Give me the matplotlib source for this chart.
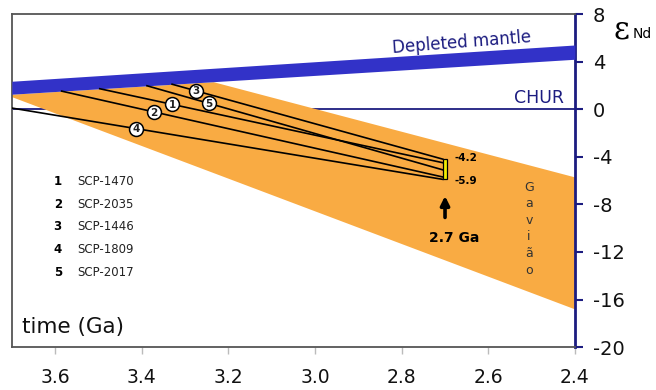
import numpy as np
import matplotlib
matplotlib.use("Agg")
import matplotlib.pyplot as plt

# depleted mantle band (age in Ga, eps Nd lower / upper edge)
dm_age = [3.7, 2.4]
dm_low = [1.26, 4.2]
dm_high = [2.35, 5.4]

# Gaviao field
gav_age = [3.7, 3.235, 2.4]
gav_upper = [1.26, 2.31, -5.7]
gav_lower = [1.05, -5.33, -16.8]

# model-age lines of the samples
sample_ids = [1, 2, 3, 4, 5]
sample_names = ["SCP-1470", "SCP-2035", "SCP-1446", "SCP-1809", "SCP-2017"]
tdm_age = [3.497, 3.585, 3.33, 3.84, 3.388]
tdm_eps = [1.72, 1.52, 2.10, 0.94, 1.97]
end_age = 2.705
end_eps = [-4.5, -5.7, -4.2, -5.9, -5.1]
label_age = [3.330, 3.372, 3.275, 3.414, 3.245]

# 2.7 Ga range
bar_age = 2.7
bar_min = -5.9
bar_max = -4.2

x_ticks = [3.6, 3.4, 3.2, 3.0, 2.8, 2.6, 2.4]
y_ticks = [8, 4, 0, -4, -8, -12, -16, -20]

orange = "#f9ab43"
dm_blue = "#3232c8"
navy = "#1c1c80"

fig = plt.figure(figsize=(6.56, 3.90), dpi=100)
ax = fig.add_axes([0.018, 0.110, 0.8585, 0.854])

# CHUR
ax.axhline(0, color=navy, lw=1.3, zorder=1)

# Gaviao field
ax.fill_between(gav_age, gav_lower, gav_upper, color=orange, lw=0, zorder=2)

# depleted mantle
ax.fill_between(dm_age, dm_low, dm_high, color=dm_blue, lw=0, zorder=3)

# sample lines + numbered circles
for sid, t0, e0, e1, ta in zip(sample_ids, tdm_age, tdm_eps, end_eps, label_age):
    ax.plot([t0, end_age], [e0, e1], color="black", lw=1.2, zorder=4)
    ea = np.interp(ta, [end_age, t0], [e1, e0])
    ax.plot(ta, ea, "o", ms=10, mfc="white", mec="black", mew=1.1, zorder=5)
    ax.text(ta, ea - 0.05, str(sid), ha="center", va="center", fontsize=7.5,
            fontweight="bold", color="#222222", zorder=6)

ax.bar(bar_age, bar_max - bar_min, bottom=bar_min, width=0.011,
       color="#f2ee00", edgecolor="black", lw=0.9, zorder=5)
ax.text(2.677, bar_max + 0.1, "-4.2", fontsize=7.5, fontweight="bold", va="center")
ax.text(2.677, bar_min - 0.15, "-5.9", fontsize=7.5, fontweight="bold", va="center")

ax.annotate("", xy=(2.7, -7.3), xytext=(2.7, -9.1),
            arrowprops=dict(arrowstyle="-|>", lw=2.6, mutation_scale=13, color="black",
                            shrinkA=0, shrinkB=0))
ax.text(2.679, -10.8, "2.7 Ga", ha="center", va="center", fontsize=10, fontweight="bold")

ax.text(2.506, -6.0, "\n".join("Gavião"), ha="center", va="top", fontsize=9,
        color="#333333", linespacing=1.36)

ax.text(2.661, 5.6, "Depleted mantle", ha="center", va="center", fontsize=12,
        color=navy, rotation=4.5)
ax.text(2.483, 0.9, "CHUR", ha="center", va="center", fontsize=12.5, color=navy)

# legend of samples
for i, (sid, name) in enumerate(zip(sample_ids, sample_names)):
    y = -6.1 - i * 1.9
    ax.text(3.594, y, str(sid), ha="center", va="center", fontsize=8.5, fontweight="bold")
    ax.text(3.55, y, name, ha="left", va="center", fontsize=8.5, color="#222222")

ax.text(3.677, -18.3, "time (Ga)", ha="left", va="center", fontsize=15.5, color="#111111")

ax.set_xlim(3.7, 2.4)
ax.set_ylim(-20, 8)
ax.set_xticks(x_ticks)
ax.set_xticklabels([f"{v:.1f}" for v in x_ticks])
ax.set_yticks(y_ticks)
ax.set_yticklabels([str(v) for v in y_ticks])
ax.yaxis.tick_right()
ax.tick_params(axis="y", direction="out", length=6, width=1.5, color=navy,
               labelsize=14, pad=7, labelcolor="#111111")
ax.tick_params(axis="x", direction="out", length=5, width=1, color="#bbbbbb",
               labelsize=13.5, pad=10, labelcolor="#111111")

for side in ["left", "top", "bottom"]:
    ax.spines[side].set_color("#555555")
    ax.spines[side].set_linewidth(1.3)
ax.spines["right"].set_color(navy)
ax.spines["right"].set_linewidth(2)

# eps Nd label
fig.text(0.948, 0.923, "ε", fontsize=22, family="DejaVu Serif", ha="center", va="center")
fig.text(0.965, 0.913, "Nd", fontsize=10, ha="left", va="center")

fig.savefig("out.png", dpi=100)
